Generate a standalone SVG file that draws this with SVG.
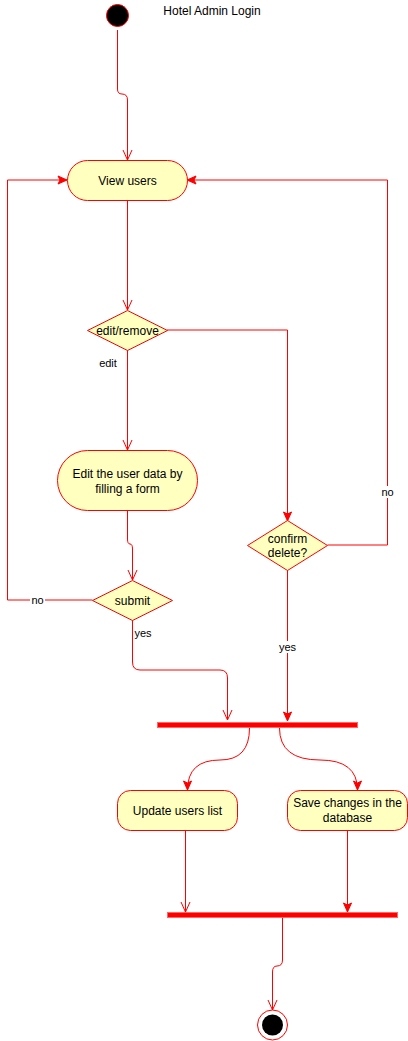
<svg xmlns="http://www.w3.org/2000/svg" width="408" height="1041" viewBox="0 0 408 1041">
<style>
.n{fill:#ffffc0;stroke:#ff0000;stroke-width:1}
.t{font-family:"Liberation Sans",Arial,sans-serif;font-size:12px;fill:#000;text-anchor:middle}
.l{font-family:"Liberation Sans",Arial,sans-serif;font-size:11px;fill:#000;text-anchor:middle}
.c{fill:none;stroke:#ff0000;stroke-width:1}
.o{marker-end:url(#open)}
.f{marker-end:url(#fill)}
.bar{fill:#ff0000;stroke:#ff6666;stroke-width:1}
</style>
<defs>
<marker id="open" markerUnits="userSpaceOnUse" markerWidth="12" markerHeight="12" refX="10" refY="5" orient="auto" overflow="visible">
<path d="M0,0.5 L10,5 L0,9.5" fill="none" stroke="#ff0000" stroke-width="1"/>
</marker>
<marker id="fill" markerUnits="userSpaceOnUse" markerWidth="12" markerHeight="12" refX="9" refY="4" orient="auto" overflow="visible">
<path d="M0,0 L9,4 L0,8 L2,4 Z" fill="#ff0000" stroke="#ff0000" stroke-width="1"/>
</marker>
</defs>
<text x="212" y="15" class="t">Hotel Admin Login</text>
<g id="connectors">
<path class="c o" d="M117.5,30 V89 Q117.5,94 122,94 Q127.5,94 127.5,100 V160"/>
<path class="c o" d="M127.5,200 V310"/>
<path class="c f" d="M167,330 H287.5 V521"/>
<path class="c o" d="M127.5,350 V450"/>
<path class="c o" d="M127.5,510 V539 Q127.5,544 130,544 Q132.5,544 132.5,549 V580"/>
<path class="c f" d="M92.5,600 H7.5 V180 H67"/>
<path class="c f" d="M327.5,545 H387.5 V180 H187"/>
<path class="c o" d="M132.5,620 V662 Q132.5,670 140,670 H220 Q227.5,670 227.5,678 V720"/>
<path class="c f" d="M287.5,570 V721"/>
<path class="c f" d="M249.5,728 Q249.5,760 220,760 Q187.5,760 187.5,790"/>
<path class="c f" d="M279.5,728 Q279.5,760 320,760 Q357.5,760 357.5,790"/>
<path class="c o" d="M185.5,830 V912"/>
<path class="c f" d="M347.5,830 V912"/>
<path class="c o" d="M282.5,918 V960 Q282.5,966 277,966 Q272.5,966 272.5,972 V1010"/>
<rect x="30" y="594" width="15" height="12" fill="#fff"/>
<text x="37.5" y="604" class="l">no</text>
<rect x="379" y="486" width="17" height="12" fill="#fff"/>
<text x="387.5" y="496" class="l">no</text>
<text x="108" y="367" class="l">edit</text>
<text x="143" y="637" class="l">yes</text>
<rect x="277" y="641" width="21" height="12" fill="#fff"/>
<text x="287.5" y="651" class="l">yes</text>
</g>
<g id="start"><circle cx="117.5" cy="15.5" r="11" fill="#000" stroke="#ff0000"/></g>
<g id="view-users"><rect class="n" x="67.5" y="160.5" width="120" height="40" rx="20"/><text x="127.5" y="185" class="t">View users</text></g>
<g id="edit-remove"><polygon class="n" points="127.5,310.5 167.5,330.5 127.5,350.5 87.5,330.5"/><text x="127.5" y="335" class="t">edit/remove</text></g>
<g id="edit-form"><rect class="n" x="57.5" y="450.5" width="140" height="60" rx="30"/><text x="127.5" y="478" class="t">Edit the user data by</text><text x="127.5" y="493" class="t">filling a form</text></g>
<g id="submit"><polygon class="n" points="132.5,580.5 172.5,600.5 132.5,620.5 92.5,600.5"/><text x="132.5" y="605" class="t">submit</text></g>
<g id="confirm"><polygon class="n" points="287.5,520.5 327.5,545.5 287.5,570.5 247.5,545.5"/><text x="287.5" y="543" class="t">confirm</text><text x="287.5" y="557" class="t">delete?</text></g>
<g id="fork"><rect class="bar" x="157.5" y="722.5" width="200" height="5"/></g>
<g id="update-list"><rect class="n" x="117.5" y="790.5" width="120" height="40" rx="13"/><text x="177.5" y="815" class="t">Update users list</text></g>
<g id="save-db"><rect class="n" x="287.5" y="790.5" width="120" height="40" rx="13"/><text x="347.5" y="807" class="t">Save changes in the</text><text x="347.5" y="822" class="t">database</text></g>
<g id="join"><rect class="bar" x="167.5" y="912.5" width="230" height="5"/></g>
<g id="end"><circle cx="272.5" cy="1025" r="15" fill="#fff" stroke="#ff0000"/><circle cx="272.5" cy="1025" r="10.5" fill="#000"/></g>
</svg>
